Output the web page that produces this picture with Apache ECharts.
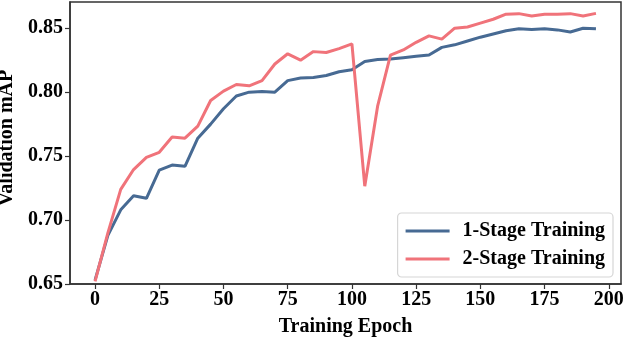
<!DOCTYPE html>
<html>
<head>
<meta charset="utf-8">
<script src="https://cdn.jsdelivr.net/npm/echarts@6/dist/echarts.min.js"></script>
<style>
html,body{margin:0;padding:0;background:#fff;}
#chart{width:626px;height:340px;}
</style>
</head>
<body>
<div id="chart"></div>
<script>
const epochs = [0,5,10,15,20,25,30,35,40,45,50,55,60,65,70,75,80,85,90,95,100,105,110,115,120,125,130,135,140,145,150,155,160,165,170,175,180,185,190,195];
const oneStage = [0.653,0.688,0.708,0.719,0.717,0.739,0.743,0.742,0.764,0.775,0.787,0.797,0.800,0.8005,0.800,0.809,0.811,0.8115,0.813,0.816,0.8175,0.824,0.8255,0.826,0.827,0.828,0.829,0.835,0.837,0.840,0.843,0.8455,0.848,0.8495,0.849,0.8495,0.8487,0.847,0.850,0.8495];
const twoStage = [0.652,0.690,0.724,0.7395,0.749,0.753,0.765,0.764,0.7735,0.7935,0.8008,0.806,0.805,0.809,0.822,0.830,0.825,0.8317,0.831,0.834,0.8377,0.7265,0.789,0.829,0.833,0.839,0.844,0.8415,0.850,0.851,0.854,0.857,0.861,0.8614,0.8595,0.861,0.861,0.8614,0.8596,0.8616];
const xTicks = [0,25,50,75,100,125,150,175,200];
const yTicks = [0.65,0.70,0.75,0.80,0.85];
const seriesNames = ['1-Stage Training','2-Stage Training'];

const FONT = 'Liberation Serif';
const FS = 20;
const chart = echarts.init(document.getElementById('chart'), null, {renderer:'canvas'});
const pair = (ys) => epochs.map((e,i)=>[e, ys[i]]);
chart.setOption({
  animation:false,
  backgroundColor:'#fff',
  grid:{left:70,right:5,top:2,bottom:56,containLabel:false,outerBoundsMode:'none',show:true,borderColor:'#333',borderWidth:1.5,backgroundColor:'transparent'},
  xAxis:{
    type:'value', min:-9.75, max:204.75,
    name:'Training Epoch', nameLocation:'middle', nameGap:33,
    nameTextStyle:{fontFamily:FONT,fontWeight:'bold',fontSize:FS,color:'#000'},
    axisLine:{show:true,onZero:false,lineStyle:{color:'#333',width:1.5}},
    axisTick:{show:true,length:5,inside:false,customValues:xTicks,lineStyle:{color:'#333',width:1.2}},
    axisLabel:{customValues:xTicks,margin:6,fontFamily:FONT,fontWeight:'bold',fontSize:FS,color:'#000',formatter:v=>String(v)},
    splitLine:{show:false}
  },
  yAxis:{
    type:'value', min:0.65, max:0.8705,
    name:'Validation mAP', nameLocation:'middle', nameGap:49, nameRotate:90,
    nameTextStyle:{fontFamily:FONT,fontWeight:'bold',fontSize:FS,color:'#000',padding:[0,0,0,10]},
    axisLine:{show:true,onZero:false,lineStyle:{color:'#333',width:1.5}},
    axisTick:{show:true,length:5,inside:false,customValues:yTicks,lineStyle:{color:'#333',width:1.2}},
    axisLabel:{customValues:yTicks,margin:7,fontFamily:FONT,fontWeight:'bold',fontSize:FS,color:'#000',formatter:v=>v.toFixed(2)},
    splitLine:{show:false}
  },
  legend:{
    data:seriesNames, orient:'vertical', right:13, bottom:63,
    itemWidth:44, itemHeight:3, itemGap:8,
    padding:[8,8,8,8],
    borderColor:'#d6d6d6', borderWidth:1.2, borderRadius:4, backgroundColor:'#fff',
    textStyle:{fontFamily:FONT,fontWeight:'bold',fontSize:FS,color:'#000',padding:[0,0,0,8]},
    icon:'rect'
  },
  series:[
    {name:seriesNames[0],type:'line',data:pair(oneStage),showSymbol:false,symbol:'none',
     lineStyle:{color:'#476a93',width:3},itemStyle:{color:'#476a93'},z:2},
    {name:seriesNames[1],type:'line',data:pair(twoStage),showSymbol:false,symbol:'none',
     lineStyle:{color:'#f0737a',width:3},itemStyle:{color:'#f0737a'},z:3}
  ]
});
</script>
</body>
</html>
